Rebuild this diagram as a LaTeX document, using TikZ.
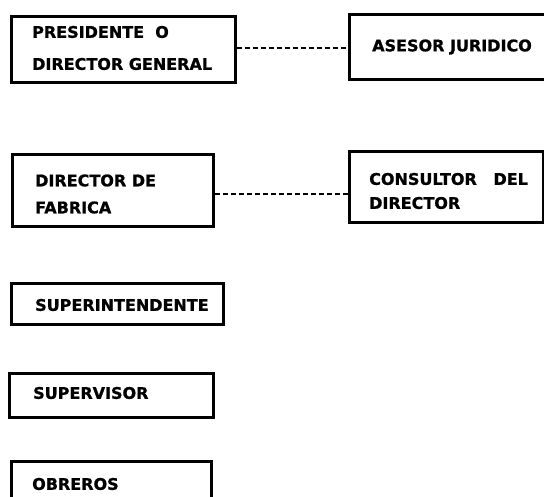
\documentclass[tikz,border=0pt]{standalone}
\usepackage{fontspec}
\setmainfont{DejaVu Sans}[BoldFeatures={FakeBold=1}]
\begin{document}
\begin{tikzpicture}[x=1pt,y=-1pt,
  box/.style={draw, line width=2.6pt, anchor=north west, inner sep=0pt},
  lbl/.style={anchor=west, inner sep=0pt, align=left, font=\fontsize{16}{24}\selectfont\bfseries},
  staff/.style={line width=2pt, dash pattern=on 5pt off 3pt}]
  \clip (0,0) rectangle (544,497);
  \fill[white] (0,0) rectangle (544,497);

  % organisation boxes
  \node[box, minimum width=224pt, minimum height=66pt] (b1) at (10,15) {};
  \node[box, minimum width=212pt, minimum height=65pt] (b2) at (348,13) {};
  \node[box, minimum width=201pt, minimum height=72pt] (b3) at (11,153) {};
  \node[box, minimum width=194pt, minimum height=71pt] (b4) at (348,150) {};
  \node[box, minimum width=212pt, minimum height=41pt] (b5) at (10,282) {};
  \node[box, minimum width=204pt, minimum height=44pt] (b6) at (8,372) {};
  \node[box, minimum width=200pt, minimum height=60pt] (b7) at (10,460) {};

  % labels
  \node[lbl, font=\fontsize{16}{32}\selectfont\bfseries] (t1) at (32,48) {PRESIDENTE\ \ O\\DIRECTOR GENERAL};
  \node[lbl] (t2) at (372,47) {ASESOR JURIDICO};
  \node[lbl, font=\fontsize{16}{27}\selectfont\bfseries] (t3) at (35,194) {DIRECTOR DE\\FABRICA};
  \node[lbl] (t4) at (369,191) {CONSULTOR\ \ \ DEL\\DIRECTOR};
  \node[lbl] (t5) at (35,305) {SUPERINTENDENTE};
  \node[lbl] (t6) at (33,393) {SUPERVISOR};
  \node[lbl] (t7) at (32,484) {OBREROS};

  % staff (advisory) links
  \draw[staff] ([yshift=1pt]b1.east) -- ([yshift=1pt]b1.east -| b2.west);
  \draw[staff] ([yshift=-4pt]b3.east) -- ([yshift=-4pt]b3.east -| b4.west);
\end{tikzpicture}
\end{document}
